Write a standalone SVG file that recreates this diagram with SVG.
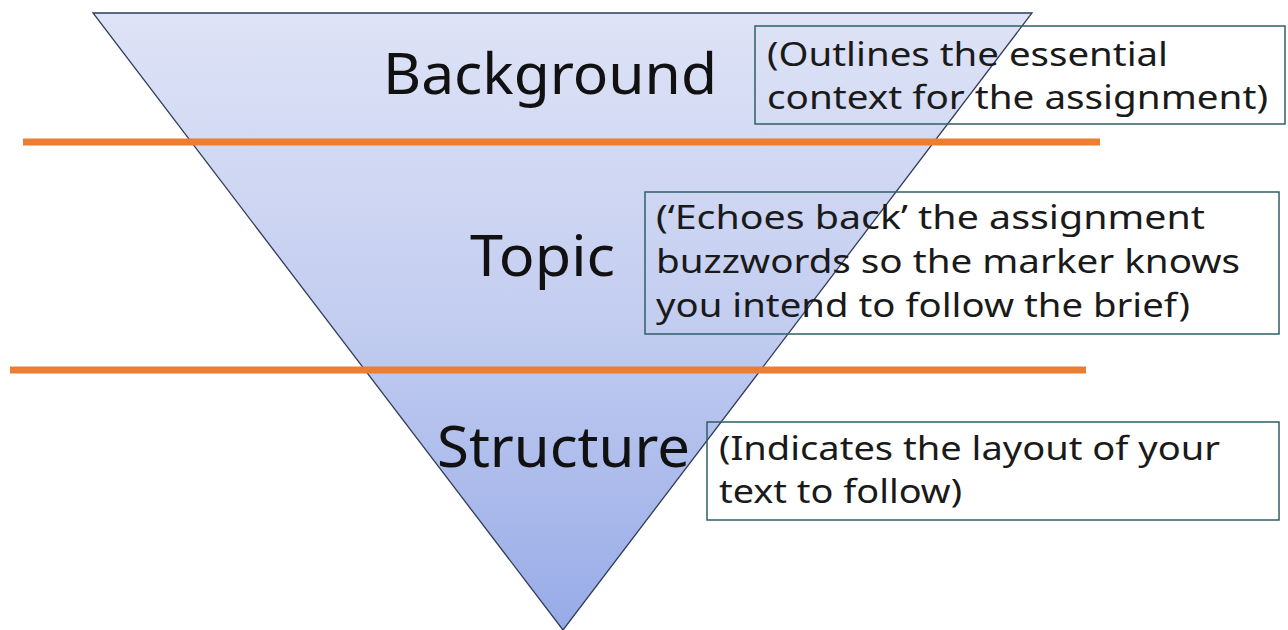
<svg xmlns="http://www.w3.org/2000/svg" width="1288" height="630" viewBox="0 0 1288 630">
<defs>
<linearGradient id="tri" x1="0" y1="0" x2="0" y2="1">
<stop offset="0" stop-color="#DEE3F6"/>
<stop offset="0.5" stop-color="#C3CDF0"/>
<stop offset="1" stop-color="#97ABE7"/>
</linearGradient>
<style>
.lvl{font-family:"Noto Sans","Open Sans",sans-serif;font-size:56px;fill:#111;}
.note{font-family:"Noto Sans","Open Sans",sans-serif;font-size:33px;fill:#1a1a1a;}
.box{fill:none;stroke:#2E5F66;stroke-width:1.5;}
.div{stroke:#ED7D31;stroke-width:7;}
</style>
</defs>
<rect width="1288" height="630" fill="#fff"/>
<g id="pyramid">
<polygon points="93,13 1032,13 563,630" fill="url(#tri)" stroke="#2F3B57" stroke-width="1.3"/>
<text class="lvl" x="383" y="94" textLength="334" lengthAdjust="spacingAndGlyphs">Background</text>
<text class="lvl" x="470" y="276" textLength="145" lengthAdjust="spacingAndGlyphs">Topic</text>
<text class="lvl" x="437" y="467" textLength="253" lengthAdjust="spacingAndGlyphs">Structure</text>
</g>
<g id="connectors">
<line class="div" x1="23" y1="142" x2="1100" y2="142"/>
<line class="div" x1="10" y1="370" x2="1086" y2="370"/>
</g>
<g id="note-background">
<rect class="box" x="755" y="26" width="530" height="98"/>
<text class="note" x="767" y="66" textLength="401" lengthAdjust="spacingAndGlyphs">(Outlines the essential</text>
<text class="note" x="767" y="109" textLength="501" lengthAdjust="spacingAndGlyphs">context for the assignment)</text>
</g>
<g id="note-topic">
<rect class="box" x="645" y="192" width="634" height="142"/>
<text class="note" x="656" y="229" textLength="549" lengthAdjust="spacingAndGlyphs">(‘Echoes back’ the assignment</text>
<text class="note" x="656" y="273" textLength="584" lengthAdjust="spacingAndGlyphs">buzzwords so the marker knows</text>
<text class="note" x="656" y="317" textLength="534" lengthAdjust="spacingAndGlyphs">you intend to follow the brief)</text>
</g>
<g id="note-structure">
<rect class="box" x="707" y="422" width="572" height="98"/>
<text class="note" x="719" y="460" textLength="501" lengthAdjust="spacingAndGlyphs">(Indicates the layout of your</text>
<text class="note" x="719" y="503" textLength="243" lengthAdjust="spacingAndGlyphs">text to follow)</text>
</g>
</svg>
